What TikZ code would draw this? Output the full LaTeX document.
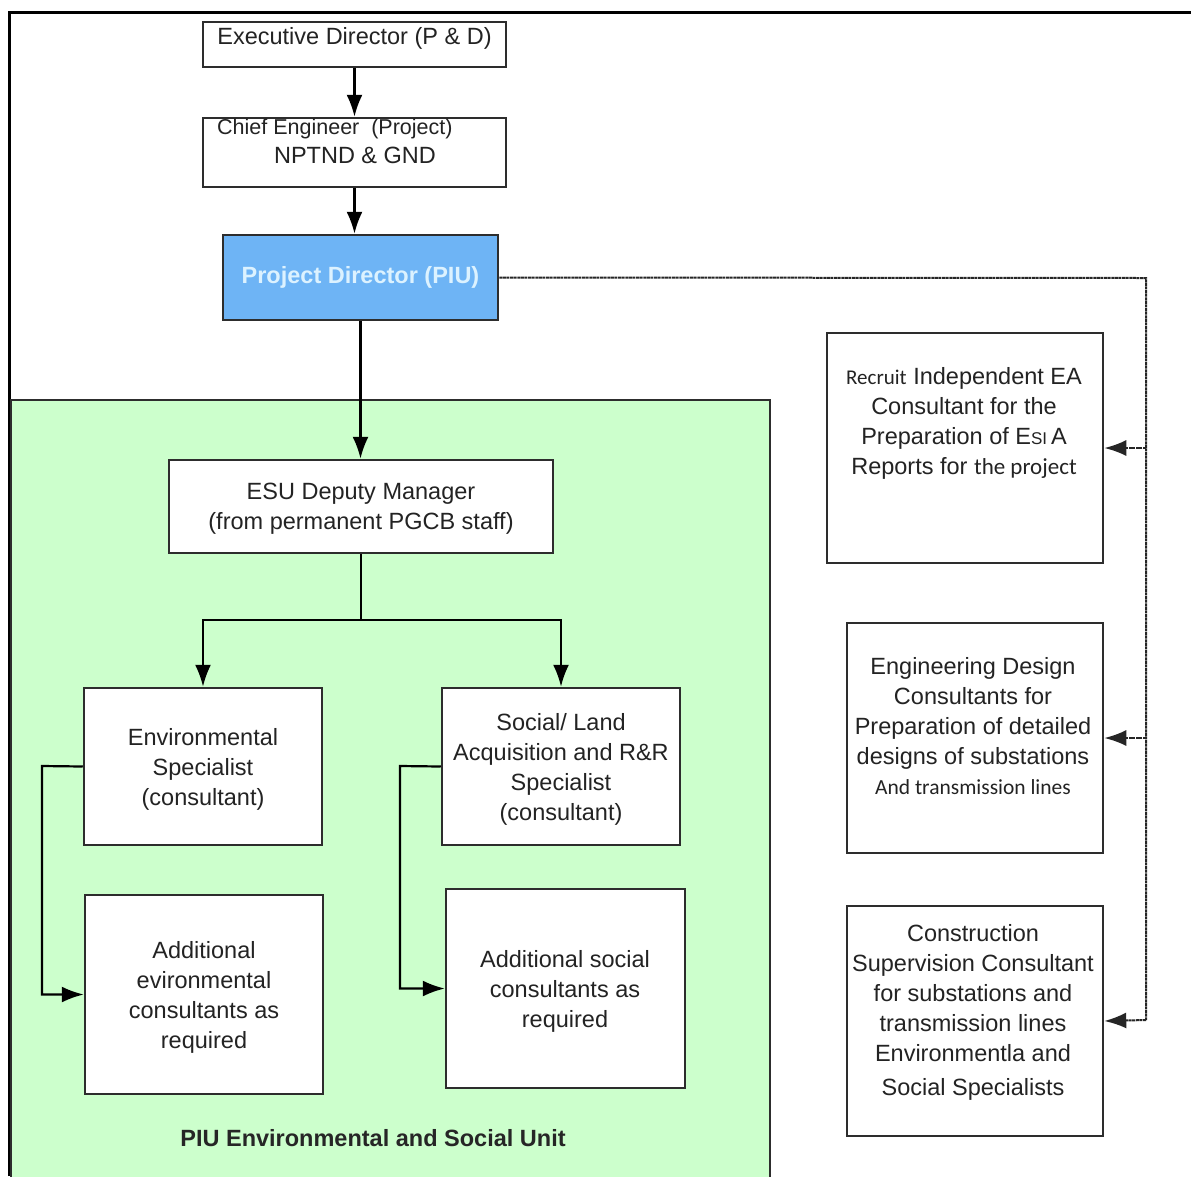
\documentclass[tikz,border=0pt]{standalone}
\usepackage{fontspec}
\setmainfont{Liberation Sans}
\newfontfamily\calib{Carlito}
\usetikzlibrary{arrows.meta}
\definecolor{boxline}{RGB}{45,45,45}
\definecolor{txt}{RGB}{35,35,35}
\definecolor{unitgreen}{RGB}{204,255,204}
\definecolor{pdblue}{RGB}{110,180,245}
\definecolor{pdtext}{RGB}{220,242,255}
\begin{document}
\begin{tikzpicture}[x=1pt,y=-1pt,
  box/.style={draw=boxline,line width=2.5pt,fill=white,inner sep=0pt},
  lbl/.style={text=txt,align=center,font=\fontsize{23.5}{30}\selectfont,inner sep=0pt},
  conn/.style={draw=black,line width=2.2pt,-{Latex[length=22pt,width=16pt]}},
  dotconn/.style={draw=black!85,line width=2pt,dash pattern=on 3pt off 0.6pt,-{Latex[length=22pt,width=16pt]}}]
\useasboundingbox (0,0) rectangle (1191,1176);
% outer frame
\draw[line width=3pt] (9,1176) -- (9,12) -- (1191,12);
% green unit
\path[draw=boxline,fill=unitgreen,line width=2.2pt] (11,1180) -- (11,400) -- (770,400) -- (770,1180);
\node[font=\bfseries\fontsize{23.5}{28}\selectfont,text=black!85] (unitlbl) at (373,1138) {PIU Environmental and Social Unit};

% top boxes
\node[box,minimum width=303pt,minimum height=45pt] (exec) at (354.5,44.5) {};
\node[lbl,anchor=base] (exect) at (354.5,44) {Executive Director (P \& D)};
\node[box,minimum width=303pt,minimum height=69pt] (chief) at (354.5,152.5) {};
\node[lbl,anchor=base west,font=\fontsize{21.5}{24}\selectfont] (chieft1) at (217,134) {Chief Engineer\ \ (Project)};
\node[lbl,anchor=base] (chieft2) at (355,163) {NPTND \& GND};
\node[box,fill=pdblue,minimum width=275pt,minimum height=85pt] (pd) at (360.5,277.5)
  {\color{pdtext}\bfseries\fontsize{23.5}{28}\selectfont Project Director (PIU)};

% ESU
\node[box,minimum width=384pt,minimum height=93pt] (esu) at (361,506.5) {};
\node[lbl] (esut) at (361,509) {ESU Deputy Manager\\(from permanent PGCB staff)};

\node[box,minimum width=238pt,minimum height=157pt] (env) at (203,766.5) {};
\node[lbl] (envt) at (203,769) {Environmental\\Specialist\\(consultant)};
\node[box,minimum width=238pt,minimum height=157pt] (soc) at (561,766.5) {};
\node[lbl] (soct) at (561,769) {Social/ Land\\Acquisition and R\&R\\Specialist\\(consultant)};

\node[box,minimum width=238pt,minimum height=199pt] (aenv) at (204,994.5) {};
\node[lbl] (aenvt) at (204,997) {Additional\\evironmental\\consultants as\\required};
\node[box,minimum width=239pt,minimum height=199pt] (asoc) at (565.5,988.5) {};
\node[lbl] (asoct) at (565,991) {Additional social\\consultants as\\required};

% right boxes
\node[box,minimum width=276pt,minimum height=230pt] (r1) at (965,448) {};
\node[lbl,anchor=north] (r1t) at (964,367) {{\calib\fontsize{21}{30}\selectfont Recruit} Independent EA\\Consultant for the\\Preparation of E{\fontsize{17}{30}\selectfont SI}\,A\\Reports for {\calib\fontsize{23}{30}\selectfont the project}};
\node[box,minimum width=256pt,minimum height=230pt] (r2) at (975,738) {};
\node[lbl,anchor=north] (r2t) at (973,657) {Engineering Design\\Consultants for\\Preparation of detailed\\designs of substations\\{\calib\fontsize{21.5}{30}\selectfont And transmission lines}};
\node[box,minimum width=256pt,minimum height=230pt] (r3) at (975,1021) {};
\node[lbl,anchor=north] (r3t) at (973,924) {Construction\\Supervision Consultant\\for substations and\\transmission lines\\Environmentla and\\[4pt]Social Specialists};

% connectors
\draw[conn] (exec.south) -- (chief.north);
\draw[conn] (chief.south) -- (chief.south |- pd.north);
\draw[conn] (pd.south) -- (pd.south |- esu.north);
\coordinate (split) at (361,620);
\draw[line width=2.2pt] (esu.south) -- (split);
\draw[conn] (split) -| (env.north);
\draw[conn] (split) -| (soc.north);
\coordinate (envbend) at (42,766);
\draw[conn] (env.west) -- (envbend) |- (aenv.west);
\coordinate (socbend) at (400,766);
\draw[conn] (soc.west) -- (socbend) |- (asoc.west);

\coordinate (rtop) at (1146,278);
\draw[line width=2pt,draw=black!85,dash pattern=on 3pt off 0.6pt] (pd.east) -- (rtop) -- (1146,1020);
\draw[dotconn] (1146,448) -- (r1.east);
\draw[dotconn] (1146,738) -- (r2.east);
\draw[dotconn] (1146,1020) -- (r3.east);
\end{tikzpicture}
\end{document}
